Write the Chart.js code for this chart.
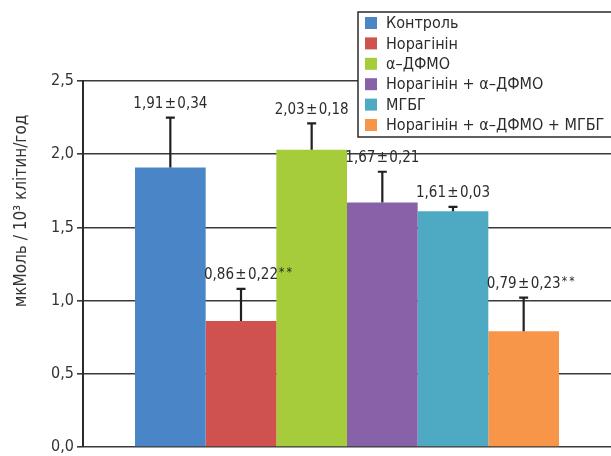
<!DOCTYPE html>
<html>
<head>
<meta charset="utf-8">
<script src="https://cdn.jsdelivr.net/npm/chart.js@4"></script>
<style>
  html, body { margin: 0; padding: 0; background: #fff; }
  #wrap { width: 611px; height: 456px; }
</style>
</head>
<body>
<div id="wrap"><canvas id="c" width="611" height="456"></canvas></div>
<script>
const GROUPS = ['Контроль', 'Норагінін', 'α–ДФМО', 'Норагінін + α–ДФМО', 'МГБГ', 'Норагінін + α–ДФМО + МГБГ'];
const MEANS = [1.91, 0.86, 2.03, 1.67, 1.61, 0.79];
const ERRORS = [0.34, 0.22, 0.18, 0.21, 0.03, 0.23];
const MARKS = ['', '**', '', '', '', '**'];
const Y_TICKS = [0, 0.5, 1.0, 1.5, 2.0, 2.5];
const Y_TITLE = 'мкМоль / 10³ клітин/год';

const COLORS = ['#4a86c7', '#d0524f', '#a6cb3b', '#8862a9', '#4daac2', '#f79549'];
const FONT = '"Liberation Sans Narrow", "DejaVu Sans Condensed", "Roboto", sans-serif';
const INK = '#2b2b2b';

const fmt = v => v.toFixed(2).replace('.', ',');

const extras = {
  id: 'extras',
  afterDatasetsDraw(chart) {
    const ctx = chart.ctx;
    const y = chart.scales.y;
    ctx.save();
    chart.data.datasets.forEach((ds, i) => {
      const bar = chart.getDatasetMeta(i).data[0];
      const top = y.getPixelForValue(MEANS[i] + ERRORS[i]);
      const base = y.getPixelForValue(MEANS[i]);
      ctx.strokeStyle = '#231f20';
      ctx.lineWidth = 2.2;
      ctx.beginPath();
      ctx.moveTo(bar.x, base);
      ctx.lineTo(bar.x, top);
      ctx.moveTo(bar.x - 4.5, top);
      ctx.lineTo(bar.x + 4.5, top);
      ctx.stroke();

      ctx.fillStyle = INK;
      ctx.font = '15px ' + FONT;
      ctx.textBaseline = 'bottom';
      ctx.textAlign = 'center';
      const txt = fmt(MEANS[i]) + '\u200a±\u200a' + fmt(ERRORS[i]);
      ctx.fillText(txt, bar.x, top - 6);
      if (MARKS[i]) {
        const w = ctx.measureText(txt).width;
        ctx.textAlign = 'left';
        ctx.font = '12px ' + FONT;
        ctx.fillText('*\u2009*', bar.x + w / 2 + 1, top - 10);
      }
    });
    ctx.restore();
  },
  afterDraw(chart) {
    const ctx = chart.ctx;
    ctx.save();
    // legend box
    ctx.fillStyle = '#fff';
    ctx.fillRect(358, 12, 260, 125);
    ctx.strokeStyle = INK;
    ctx.lineWidth = 1.5;
    ctx.strokeRect(358, 12, 260, 125);
    ctx.font = '16px ' + FONT;
    ctx.textBaseline = 'middle';
    ctx.textAlign = 'left';
    GROUPS.forEach((g, i) => {
      const cy = 23 + i * 20.4;
      ctx.fillStyle = COLORS[i];
      ctx.fillRect(365, cy - 6, 12, 12);
      ctx.fillStyle = INK;
      ctx.fillText(g, 386, cy + 1);
    });
    // y axis title
    ctx.translate(22, 211);
    ctx.rotate(-Math.PI / 2);
    ctx.font = '17px ' + FONT;
    ctx.textAlign = 'center';
    ctx.textBaseline = 'middle';
    ctx.fillStyle = '#333';
    ctx.fillText(Y_TITLE, 0, 0);
    ctx.restore();
  }
};

new Chart(document.getElementById('c'), {
  type: 'bar',
  data: {
    labels: [''],
    datasets: GROUPS.map((g, i) => ({
      label: g,
      data: [MEANS[i]],
      backgroundColor: COLORS[i],
      borderWidth: 0,
      barPercentage: 1,
      categoryPercentage: 0.803
    }))
  },
  options: {
    responsive: false,
    animation: false,
    layout: { padding: { top: 81, bottom: 9, left: 0, right: 0 } },
    plugins: { legend: { display: false }, tooltip: { enabled: false } },
    scales: {
      x: {
        grid: { display: false },
        ticks: { display: false },
        border: { display: false },
        afterFit: s => { s.height = 0; }
      },
      y: {
        min: 0,
        max: 2.5,
        afterFit: s => { s.width = 83; s.paddingTop = 0; s.paddingBottom = 0; },
        afterBuildTicks: s => { s.ticks = Y_TICKS.map(v => ({ value: v })); },
        ticks: {
          font: { family: FONT, size: 16 },
          color: '#333',
          padding: 3,
          callback: v => v.toFixed(1).replace('.', ',')
        },
        grid: { color: '#3a3a3a', lineWidth: 1.6, tickLength: 6 },
        border: { color: '#2b2b2b', width: 2 }
      }
    }
  },
  plugins: [extras]
});
</script>
</body>
</html>
